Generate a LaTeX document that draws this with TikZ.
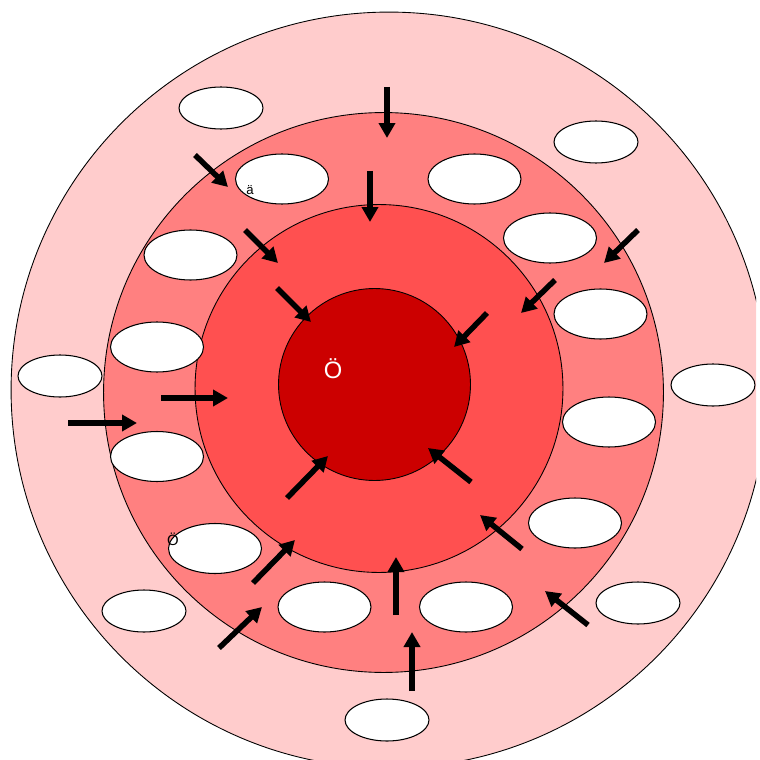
\documentclass[tikz,border=0pt]{standalone}
\usepackage{fontspec}
\setmainfont{Liberation Sans}
\usetikzlibrary{shapes.geometric, arrows.meta}

\definecolor{roseclair}{HTML}{FFCCCC}
\definecolor{rosemoyen}{HTML}{FF8080}
\definecolor{rougeclair}{HTML}{FF5050}
\definecolor{rougefonce}{HTML}{CC0000}

\tikzset{
  fleche/.style={line width=0.11cm, -{Triangle[length=0.3cm,width=0.32cm]}},
  bulle/.style={ellipse, draw, fill=white, line width=0.6pt, inner sep=0pt,
                minimum width=1.68cm, minimum height=0.84cm},
  grandebulle/.style={bulle, minimum width=1.86cm, minimum height=1cm}
}

\begin{document}
\begin{tikzpicture}[x=0.02cm, y=-0.02cm]
        \useasboundingbox (0,0) rectangle (760,760);
        \clip (0,0) rectangle (756,760);

        % Cercles
        \draw[fill=roseclair, line width=0.5pt] (389,390) circle (7.56cm);
        \draw[fill=rosemoyen, line width=0.5pt] (383.5,392.5) circle (5.6cm);
        \draw[fill=rougeclair, line width=0.5pt] (379,388.5) circle (3.68cm);
        \draw[fill=rougefonce, line width=0.5pt] (374.5,384.5) circle (1.92cm);

        % Bulles de l'anneau exterieur
        \foreach \nom/\x/\y in {b1/221/108, b2/596/142, b3/60/376, b4/713/385,
                                b5/144/611, b6/638/603, b7/387/720}
            \node[bulle] (\nom) at (\x,\y) {};

        % Bulles de l'anneau moyen
        \foreach \nom/\x/\y in {g1/282/179, g2/474.5/179, g3/190.5/255, g4/550/238,
                                g5/157/347, g6/600.5/314, g7/157/456.5, g8/609/422,
                                g9/215/548.5, g10/575/523, g11/324.5/607, g12/466/607}
            \node[grandebulle] (\nom) at (\x,\y) {};

        % Fleches
        \foreach \i/\xa/\ya/\xb/\yb in {1/387/87/387/138, 2/195/155/228/187,
                3/370/171/370/222, 4/638/230/604/263, 5/245/230/278/263,
                6/555/280/521/313, 7/277/288/311/322, 8/487/313/454/347,
                9/161/398/228/398, 10/68/423/137/423, 11/471/482/428/448,
                12/287/498/328/456, 13/522/549/480/515, 14/253/583/295/540,
                15/588/625/545/591, 16/219/648/262/607, 17/396/615/396/557,
                18/412/691/412/632} {
            \coordinate (d\i) at (\xa,\ya);
            \coordinate (f\i) at (\xb,\yb);
            \draw[fleche] (d\i) -- (f\i);
        }

        % Textes
        \node[font=\fontsize{7.5}{8}\selectfont, inner sep=0pt] (lettreA) at (250,190) {ä};
        \node[font=\fontsize{8.5}{9}\selectfont, inner sep=0pt] (lettreO) at (173,539) {Ö};
        \node[font=\fontsize{13.5}{15}\selectfont, text=white, inner sep=0pt] (centre) at (333,369) {Ö};
    \end{tikzpicture}
\end{document}
